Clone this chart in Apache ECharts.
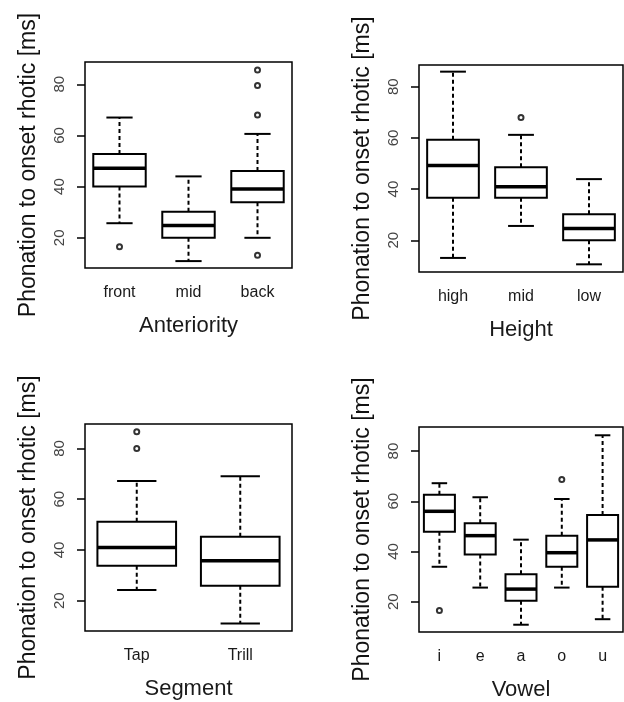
<!DOCTYPE html>
<html>
<head>
<meta charset="utf-8">
<script src="https://cdn.jsdelivr.net/npm/echarts@6/dist/echarts.min.js"></script>
<style>
html,body{margin:0;padding:0;background:#fff;}
#chart{width:624px;height:702px;}
</style>
</head>
<body>
<div id="chart"></div>
<script>
// box rows: [lower whisker, Q1, median, Q3, upper whisker]
var anteriorityCats = ['front', 'mid', 'back'];
var anteriorityBoxes = [
	[25.7, 40, 47.2, 52.7, 67],
	[10.9, 20, 24.8, 30.2, 44],
	[20, 33.9, 39.1, 46.1, 60.6]
];
var anteriorityOutliers = [[0, 16.5], [2, 85.6], [2, 79.5], [2, 68], [2, 13.2]];

var heightCats = ['high', 'mid', 'low'];
var heightBoxes = [
	[13.1, 36.6, 49.2, 59.3, 85.9],
	[25.6, 36.6, 40.9, 48.5, 61.2],
	[10.6, 20, 24.6, 30.2, 43.9]
];
var heightOutliers = [[1, 68]];

var segmentCats = ['Tap', 'Trill'];
var segmentBoxes = [
	[24.2, 33.8, 41, 51.1, 67.2],
	[11.1, 25.9, 35.8, 45.2, 69]
];
var segmentOutliers = [[0, 86.5], [0, 80]];

var vowelCats = ['i', 'e', 'a', 'o', 'u'];
var vowelBoxes = [
	[33.9, 47.9, 56, 62.6, 67.2],
	[25.6, 38.8, 46.3, 51.2, 61.6],
	[10.8, 20.4, 25, 30.9, 44.7],
	[25.6, 33.9, 39.5, 46.3, 60.9],
	[13, 25.9, 44.6, 54.5, 86.3]
];
var vowelOutliers = [[0, 16.5], [3, 68.7]];

var yTicks = [20, 40, 60, 80];
var yTitle = 'Phonation to onset rhotic [ms]';

var font = 'Liberation Sans, Arial, sans-serif';

var panels = [
	{cats: anteriorityCats, boxes: anteriorityBoxes, out: anteriorityOutliers, name: 'Anteriority',
	 grid: {left: 85, top: 62, width: 207, height: 206}, min: 8.2, max: 88.7},
	{cats: heightCats, boxes: heightBoxes, out: heightOutliers, name: 'Height',
	 grid: {left: 419, top: 65, width: 204, height: 207}, min: 7.6, max: 88.5},
	{cats: segmentCats, boxes: segmentBoxes, out: segmentOutliers, name: 'Segment',
	 grid: {left: 85, top: 424, width: 207, height: 207}, min: 8.1, max: 89.6},
	{cats: vowelCats, boxes: vowelBoxes, out: vowelOutliers, name: 'Vowel',
	 grid: {left: 419, top: 427, width: 204, height: 207}, min: 7.9, max: 89.6}
];

function renderBox(params, api) {
	var x = api.value(0);
	var lo = api.coord([x, api.value(1)]);
	var q1 = api.coord([x, api.value(2)]);
	var med = api.coord([x, api.value(3)]);
	var q3 = api.coord([x, api.value(4)]);
	var hi = api.coord([x, api.value(5)]);
	var w = api.size([1, 0])[0] * 0.76;
	var cx = lo[0];
	var solid = {stroke: '#000', lineWidth: 2, fill: null};
	var dash = {stroke: '#000', lineWidth: 2, lineDash: [4, 3]};
	return {
		type: 'group',
		children: [
			{type: 'line', shape: {x1: cx, y1: q3[1], x2: cx, y2: hi[1]}, style: dash},
			{type: 'line', shape: {x1: cx, y1: q1[1], x2: cx, y2: lo[1]}, style: dash},
			{type: 'line', shape: {x1: cx - w / 4, y1: hi[1], x2: cx + w / 4, y2: hi[1]}, style: solid},
			{type: 'line', shape: {x1: cx - w / 4, y1: lo[1], x2: cx + w / 4, y2: lo[1]}, style: solid},
			{type: 'rect', shape: {x: cx - w / 2, y: q3[1], width: w, height: q1[1] - q3[1]},
				style: {stroke: '#000', lineWidth: 2, fill: '#fff'}},
			{type: 'line', shape: {x1: cx - w / 2, y1: med[1], x2: cx + w / 2, y2: med[1]},
				style: {stroke: '#000', lineWidth: 3.5}}
		]
	};
}

var grids = [], xAxes = [], yAxes = [], series = [];
panels.forEach(function (p, i) {
	grids.push({
		left: p.grid.left, top: p.grid.top, width: p.grid.width, height: p.grid.height,
		show: true, borderColor: '#000', borderWidth: 1.5, backgroundColor: 'transparent'
	});
	xAxes.push({
		gridIndex: i,
		type: 'category',
		data: p.cats,
		axisLine: {show: false},
		axisTick: {alignWithLabel: true, length: 8, lineStyle: {color: '#000', width: 1.5}},
		axisLabel: {fontSize: 16, color: '#1a1a1a', margin: 17, fontFamily: font},
		name: p.name,
		nameLocation: 'middle',
		nameGap: 47,
		nameTextStyle: {fontSize: 22, color: '#1a1a1a', fontFamily: font}
	});
	yAxes.push({
		gridIndex: i,
		type: 'value',
		min: p.min,
		max: p.max,
		splitLine: {show: false},
		axisLine: {show: false},
		axisTick: {show: true, customValues: yTicks, length: 8, lineStyle: {color: '#000', width: 1.5}},
		axisLabel: {customValues: yTicks, rotate: 90, fontSize: 15, color: '#444', margin: 18, fontFamily: font},
		name: yTitle,
		nameLocation: 'middle',
		nameGap: 45,
		nameTextStyle: {fontSize: 23, color: '#111', fontFamily: font}
	});
	series.push({
		type: 'custom',
		xAxisIndex: i,
		yAxisIndex: i,
		renderItem: renderBox,
		encode: {x: 0, y: [1, 2, 3, 4, 5]},
		data: p.boxes.map(function (b, k) { return [k].concat(b); })
	});
	series.push({
		type: 'scatter',
		xAxisIndex: i,
		yAxisIndex: i,
		symbol: 'emptyCircle',
		symbolSize: 5,
		itemStyle: {color: '#000', borderWidth: 1.8},
		data: p.out
	});
});

var myChart = echarts.init(document.getElementById('chart'));
var option = {
	animation: false,
	backgroundColor: '#fff',
	grid: grids,
	xAxis: xAxes,
	yAxis: yAxes,
	series: series
};
myChart.setOption(option);
window.addEventListener("resize", function () {
	myChart.resize();
});
</script>
</body>
</html>
